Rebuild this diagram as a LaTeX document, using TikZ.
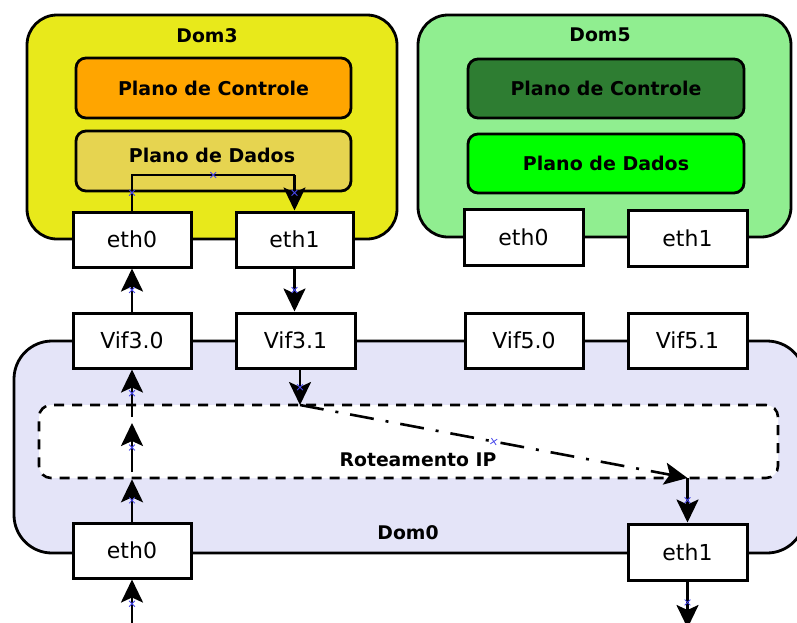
\documentclass[tikz,border=0pt]{standalone}
\usepackage{fontspec}
\setmainfont{DejaVu Sans}
\usetikzlibrary{arrows.meta,shapes.misc}

\definecolor{domthree}{RGB}{232,233,27}
\definecolor{domfive}{RGB}{144,238,144}
\definecolor{domzero}{RGB}{228,228,248}
\definecolor{ctlthree}{RGB}{255,165,0}
\definecolor{datthree}{RGB}{230,212,80}
\definecolor{ctlfive}{RGB}{46,125,50}
\definecolor{datfive}{RGB}{0,255,0}
\definecolor{markblue}{RGB}{70,70,235}

\begin{document}
\begin{tikzpicture}[x=1pt,y=-1pt,
  dombox/.style={draw=black, line width=2.8pt, rounded corners=30pt, inner sep=0pt},
  planebox/.style={draw=black, line width=2.8pt, rounded corners=10pt, inner sep=0pt,
    minimum width=275pt, minimum height=60pt,
    font=\fontsize{19}{22}\selectfont\bfseries},
  iface/.style={draw=black, fill=white, line width=3pt, inner sep=0pt,
    minimum width=118pt, minimum height=55pt,
    font=\fontsize{22}{26}\selectfont},
  lbl/.style={font=\fontsize{18.8}{22}\selectfont\bfseries, inner sep=0pt},
  arr/.style={line width=2.6pt,
    -{Stealth[length=23pt,width=22pt,inset=5pt]}},
  xm/.style={cross out, draw=markblue, line width=0.8pt, minimum size=5pt,
    inner sep=0pt, sloped},
  dashdotline/.style={dash pattern=on 24pt off 12pt on 3pt off 12pt}
]
\useasboundingbox (0,0) rectangle (797,622);

% domain backgrounds
\node[dombox, fill=domthree, minimum width=370pt, minimum height=224pt] (dom3) at (212,127) {};
\node[dombox, fill=domfive, minimum width=373pt, minimum height=222pt] (dom5) at (604.5,126) {};
\node[dombox, fill=domzero, rounded corners=38pt, minimum width=791pt, minimum height=212pt] (dom0) at (409.5,447) {};

\node[lbl] (dom3t) at (207,36) {Dom3};
\node[lbl] (dom5t) at (600,35) {Dom5};
\node[lbl] (dom0t) at (408,533) {Dom0};

% routing area inside Dom0
\node[draw=black, fill=white, line width=2.6pt, dash pattern=on 10pt off 8pt,
  rounded corners=12pt, minimum width=739pt, minimum height=73pt, inner sep=0pt]
  (route) at (408.5,441.5) {};
\node[lbl] (routet) at (418,460) {Roteamento IP};

% control and data planes
\node[planebox, fill=ctlthree] (ctl3) at (213.5,88) {Plano de Controle};
\node[planebox, fill=datthree] (dat3) at (213.5,161) {};
\node[lbl, font=\fontsize{19}{22}\selectfont\bfseries] (dat3t) at (212,155) {Plano de Dados};
\node[planebox, fill=ctlfive, minimum width=276pt, minimum height=59pt] (ctl5) at (606,88.5) {Plano de Controle};
\node[planebox, fill=datfive, minimum width=276pt, minimum height=59pt] (dat5) at (606,163.5) {Plano de Dados};

% interfaces
\node[iface] (eth3a) at (132,239.5) {eth0};
\node[iface, minimum width=117pt] (eth3b) at (294.5,239.5) {eth1};
\node[iface, minimum width=119pt, minimum height=56pt] (eth5a) at (523.5,237) {eth0};
\node[iface, minimum width=119pt, minimum height=56pt] (eth5b) at (687.5,238) {eth1};

\node[iface] (vif30) at (132,340.5) {Vif3.0};
\node[iface, minimum width=119pt] (vif31) at (295.5,340.5) {Vif3.1};
\node[iface] (vif50) at (524,340.5) {Vif5.0};
\node[iface, minimum width=119pt] (vif51) at (687.5,340.5) {Vif5.1};

\node[iface] (eth0a) at (132,550.5) {eth0};
\node[iface, minimum width=119pt, minimum height=56pt] (eth0b) at (687.5,552) {eth1};

% connector end points
\coordinate (in0) at (132,640);
\coordinate (up1) at (132,472);
\coordinate (up2) at (132,423);
\coordinate (up3) at (132,417);
\coordinate (bend1) at (132,175);
\coordinate (bend2) at (294.5,175);
\coordinate (rin) at (300,405);
\coordinate (rout) at (687.5,478);
\coordinate (out0) at (687.5,628);

% incoming path through Dom0 up to Dom3
\draw[arr] (in0) -- node[xm, pos=0.6]{} (eth0a.south);
\draw[arr] (eth0a.north) -- node[xm]{} (eth0a.north |- route.south);
\draw[arr] (up1) -- node[xm]{} (up2);
\draw[arr] (up3) -- node[xm]{} (vif30.south);
\draw[arr] (vif30.north) -- node[xm]{} (eth3a.south);

% forwarding inside Dom3
\draw[line width=2.6pt] (eth3a.north) -- node[xm]{} (bend1) -- node[xm]{} (bend2);
\draw[arr] (bend2) -- node[xm]{} (eth3b.north);

% back to Dom0 and out
\draw[arr] (eth3b.south) -- node[xm]{} (eth3b.south |- vif31.north);
\draw[arr] (vif31.south -| rin) -- node[xm]{} (rin);
\draw[arr, dashdotline] (rin) -- node[xm]{} (rout);
\draw[arr] (rout) -- node[xm]{} (eth0b.north);
\draw[arr] (eth0b.south) -- node[xm, pos=0.45]{} (out0);
\end{tikzpicture}
\end{document}
